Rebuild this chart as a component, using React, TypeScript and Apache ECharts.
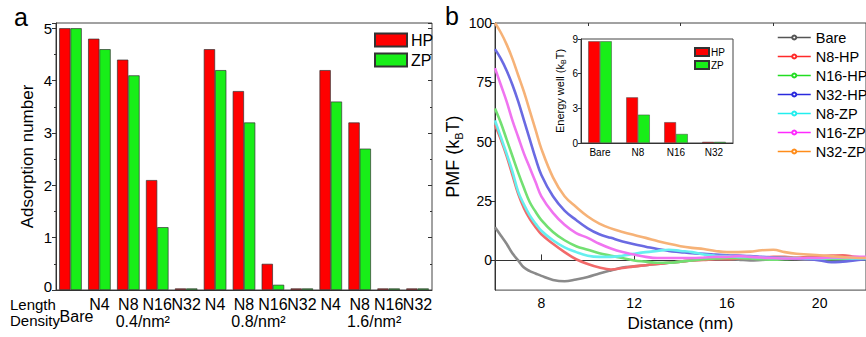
import React, { useEffect, useRef } from "react";
import * as echarts from "echarts";

// ---------- Panel a data ----------
const categoriesA = ["Bare", "N4", "N8", "N16", "N32", "N4", "N8", "N16", "N32", "N4", "N8", "N16", "N32"];
const hpAdsorption = [5, 4.8, 4.4, 2.1, 0.03, 4.6, 3.8, 0.5, 0.03, 4.2, 3.2, 0.03, 0.03];
const zpAdsorption = [5, 4.6, 4.1, 1.2, 0.03, 4.2, 3.2, 0.1, 0.03, 3.6, 2.7, 0.03, 0.03];
const densityLabels = ["0.4/nm²", "0.8/nm²", "1.6/nm²"];
const yTicksA = [0, 1, 2, 3, 4, 5];

// ---------- Panel b data ----------
const distance = [6, 6.25, 6.5, 6.75, 7, 7.25, 7.5, 7.75, 8, 8.5, 9, 9.5, 10, 10.5, 11, 11.5, 12, 12.5, 13, 13.5, 14, 14.5, 15, 15.5, 16, 16.5, 17, 17.5, 18, 18.5, 19, 19.5, 20, 20.5, 21, 21.5, 22];
const pmfBare = [14, 10.5, 7, 3, 0, -3, -4.5, -5.5, -6.5, -8.2, -8.8, -8, -7, -5.5, -4.2, -3, -2.5, -2, -1.5, -1, -0.5, 0, 0.3, 0.5, 0.5, 0.3, 0, 0.2, 0.5, 0.8, 0.5, 0.3, 0.5, 0.8, 1, 1, 1];
const pmfN8HP = [57, 51, 44, 36, 28, 22, 17.5, 14, 11, 7, 3.5, 0.5, -1.5, -3, -3.8, -3.2, -2.5, -2, -1.5, -1, -0.5, 0, 0.2, 0.5, 0.5, 0.8, 1, 1.2, 1.5, 1.5, 1.2, 1.5, 1.8, 2, 2.2, 1.5, 1];
const pmfN16HP = [64, 58, 51, 44, 37, 30.5, 24.5, 20.5, 17, 12, 8.5, 6, 4.5, 3, 2, 1, 0, -0.5, -1, -1, -0.5, 0, 0.5, 0.8, 1, 1, 0.8, 0.5, 0.3, 0.5, 0.8, 1, 0.8, 0.5, 0.5, 0.5, 0.5];
const pmfN32HP = [89, 85, 80, 74, 67, 59, 51, 43, 36, 27, 21, 17, 13.5, 11, 9.5, 8, 6.8, 5.8, 4.8, 4, 3.5, 3, 2.8, 2.5, 2.2, 2, 1.8, 1.5, 1.2, 1, 0.8, 0.5, 0, -0.8, -0.5, 0, 0.5];
const pmfN8ZP = [59, 52, 45, 37.5, 29, 23.5, 19, 15.5, 12.5, 8.5, 5.5, 3.5, 2, 1.5, 1.5, 2, 2.8, 3.5, 4, 4.5, 4, 3.5, 2.5, 2, 1.8, 1.5, 1.5, 1.2, 1, 1, 1, 0.8, 0.8, 1, 1, 0.8, 0.8];
const pmfN16ZP = [81, 74, 67, 59, 52, 45, 39, 33, 27, 20, 15, 11.5, 9.5, 7, 5, 3.5, 2.5, 1.5, 1, 1, 1, 1, 1.2, 1.5, 1.5, 1.8, 1.5, 1.2, 1, 0.8, 0.8, 1, 1, 1.2, 1.2, 1.5, 1.5];
const pmfN32ZP = [100, 96, 91, 85, 78, 71, 63, 55, 47, 35, 27, 22.5, 18.5, 15.5, 13.5, 12, 10.7, 9.5, 8.2, 7, 6, 5.3, 4.8, 4, 3.5, 3.5, 3.7, 4.3, 4.5, 3.5, 2.8, 2.5, 2.2, 1.8, 1.4, 1.1, 1];
const lineNames = ["Bare", "N8-HP", "N16-HP", "N32-HP", "N8-ZP", "N16-ZP", "N32-ZP"];
const lineValues = [pmfBare, pmfN8HP, pmfN16HP, pmfN32HP, pmfN8ZP, pmfN16ZP, pmfN32ZP];
const pmfTicks = [0, 25, 50, 75, 100];
const distanceTicks = [8, 12, 16, 20];
const distanceMinorTicks = [10, 14, 18];

// ---------- Inset data ----------
const insetCategories = ["Bare", "N8", "N16", "N32"];
const hpWell = [8.8, 3.95, 1.8, 0.1];
const zpWell = [8.8, 2.45, 0.78, 0.1];

const lineColors = ["#8a8a8a", "#f26a6a", "#72e072", "#6a6ae2", "#66efef", "#f074f0", "#f6b277"];
const legendColors = ["#555555", "#ff2a2a", "#22dd22", "#2a2add", "#22eeee", "#ff2aff", "#ff8c1a"];
const RED = "#ff0000";
const GREEN = "#18ee18";
const FONT = "Liberation Sans, Arial, sans-serif";

export default function App() {
  const ref = useRef<HTMLDivElement>(null);

  useEffect(() => {
    if (!ref.current) return;
    const chart = echarts.init(ref.current, null, { renderer: "svg" });

    const aLeft = 56, aRight = 432;
    const catW = (aRight - aLeft) / categoriesA.length;
    const groupCenters = [3, 7, 11].map((k) => aLeft + k * catW);

    const axisLineStyle = { color: "#333", width: 1 };
    const barBorder = { borderColor: "#333", borderWidth: 0.7 };

    const option: any = {
      animation: false,
      textStyle: { fontFamily: FONT, color: "#000" },
      grid: [
        { left: aLeft, top: 23, right: 866 - aRight, bottom: 47, show: true, borderColor: "#444", borderWidth: 1 },
        { left: 495, top: 23, right: -5, bottom: 40, show: true, borderColor: "#444", borderWidth: 1 },
        { left: 581, top: 39, right: 133, bottom: 194, show: true, borderColor: "#444", borderWidth: 1, backgroundColor: "#fff" },
      ],
      xAxis: [
        {
          type: "category", gridIndex: 0, data: categoriesA,
          axisLine: { lineStyle: axisLineStyle },
          axisTick: { inside: true, length: 3, lineStyle: axisLineStyle },
          axisLabel: {
            interval: 0, fontSize: 16, color: "#000", margin: 8, lineHeight: 12,
            formatter: (v: string, i: number) => (i === 0 ? "\n{b|" + v + "}" : v),
            rich: { b: { fontSize: 16, color: "#000", lineHeight: 12, padding: [0, 0, 0, 12], fontFamily: FONT } },
          },
        },
        {
          type: "value", gridIndex: 1, min: 6, max: 22,
          axisLine: { lineStyle: axisLineStyle },
          axisTick: { inside: true, length: 6, customValues: distanceTicks, lineStyle: axisLineStyle },
          axisLabel: { customValues: distanceTicks, fontSize: 14, color: "#000", margin: 6 },
          splitLine: { show: false },
          name: "Distance (nm)", nameLocation: "middle", nameGap: 22,
          nameTextStyle: { fontSize: 17, color: "#000" },
        },
        {
          type: "value", gridIndex: 1, min: 6, max: 22,
          axisLine: { show: false },
          axisTick: { inside: true, length: 3, customValues: distanceMinorTicks, lineStyle: axisLineStyle },
          axisLabel: { show: false },
          splitLine: { show: false },
        },
        {
          type: "category", gridIndex: 2, data: insetCategories,
          axisLine: { lineStyle: axisLineStyle },
          axisTick: { show: false },
          axisLabel: { fontSize: 10, color: "#000", margin: 4 },
        },
      ],
      yAxis: [
        {
          type: "value", gridIndex: 0, min: 0, max: 5.1, interval: 1,
          axisLine: { show: true, lineStyle: axisLineStyle },
          axisTick: { show: true, length: 4, lineStyle: axisLineStyle },
          minorTick: { show: true, splitNumber: 2, length: 2, lineStyle: axisLineStyle },
          axisLabel: {
            fontSize: 15, color: "#000", margin: 4,
            formatter: (v: number) => (v === 0 ? "{z|0}" : yTicksA.includes(v) ? String(v) : ""),
            rich: { z: { fontSize: 15, color: "#000", padding: [0, 0, 7, 0], fontFamily: FONT } },
          },
          splitLine: { show: false },
          name: "Adsorption number", nameLocation: "middle", nameGap: 20,
          nameTextStyle: { fontSize: 17, color: "#000" },
        },
        {
          type: "value", gridIndex: 0, min: 0, max: 5.1, interval: 1, position: "right",
          axisLine: { show: false },
          axisTick: { show: true, inside: true, length: 4, lineStyle: axisLineStyle },
          minorTick: { show: true, splitNumber: 2, length: 2, lineStyle: axisLineStyle },
          axisLabel: { show: false },
          splitLine: { show: false },
        },
        {
          type: "value", gridIndex: 1, min: -12.5, max: 100,
          axisLine: { show: true, lineStyle: axisLineStyle },
          axisTick: { show: true, length: 4, customValues: pmfTicks, lineStyle: axisLineStyle },
          axisLabel: { customValues: pmfTicks, fontSize: 14, color: "#000", margin: 3 },
          splitLine: { show: false },
          name: "{a|PMF (k}{s|B}{a|T)}", nameLocation: "middle", nameGap: 25,
          nameTextStyle: {
            rich: {
              a: { fontSize: 18, color: "#000", lineHeight: 24, fontFamily: FONT },
              s: { fontSize: 11, color: "#000", verticalAlign: "bottom", fontFamily: FONT },
            },
          },
        },
        {
          type: "value", gridIndex: 2, min: 0, max: 9, interval: 3,
          axisLine: { show: true, lineStyle: axisLineStyle },
          axisTick: { show: true, length: 3, lineStyle: axisLineStyle },
          axisLabel: { fontSize: 10, color: "#000", margin: 3 },
          splitLine: { show: false },
          name: "{a|Energy well (k}{s|B}{a|T)}", nameLocation: "middle", nameGap: 14,
          nameTextStyle: {
            rich: {
              a: { fontSize: 11, color: "#000", lineHeight: 15, fontFamily: FONT },
              s: { fontSize: 7, color: "#000", verticalAlign: "bottom", fontFamily: FONT },
            },
          },
        },
      ],
      legend: [
        {
          data: ["HP", "ZP"], orient: "vertical", left: 369, top: 27,
          itemWidth: 32, itemHeight: 13, itemGap: 4, selectedMode: false,
          textStyle: { fontSize: 16, color: "#000", fontFamily: FONT, padding: [0, 0, 0, -1] },
          icon: "rect",
        },
        {
          data: lineNames.map((n, i) => ({
            name: n,
            itemStyle: { color: legendColors[i], borderColor: legendColors[i], borderWidth: 1 },
            lineStyle: { color: legendColors[i], width: 1.5 },
          })),
          orient: "vertical", left: 772, top: 25,
          itemWidth: 33, itemHeight: 5, itemGap: 4, selectedMode: false,
          textStyle: { fontSize: 14.5, color: "#000", fontFamily: FONT, padding: [0, 0, 0, 0] },
        },
        {
          data: ["HP", "ZP"], orient: "vertical", left: 689, top: 42,
          itemWidth: 14, itemHeight: 8, itemGap: 3, selectedMode: false,
          textStyle: { fontSize: 10, color: "#000", fontFamily: FONT, padding: [0, 0, 0, -3] },
          icon: "rect",
        },
      ],
      series: [
        {
          name: "HP", type: "bar", xAxisIndex: 0, yAxisIndex: 0, data: hpAdsorption,
          barGap: "0%", barCategoryGap: "22%", itemStyle: { color: RED, ...barBorder }, silent: true,
        },
        {
          name: "ZP", type: "bar", xAxisIndex: 0, yAxisIndex: 0, data: zpAdsorption,
          barGap: "0%", barCategoryGap: "22%", itemStyle: { color: GREEN, ...barBorder }, silent: true,
        },
        ...lineNames.map((n, i) => ({
          name: n, type: "line", xAxisIndex: 1, yAxisIndex: 2,
          data: distance.map((d, j) => [d, lineValues[i][j]]),
          smooth: 0.4, showSymbol: false, symbol: "emptyCircle", symbolSize: 5,
          lineStyle: { color: lineColors[i], width: 2.6 },
          itemStyle: { color: lineColors[i] },
          silent: true, z: 2 + i,
        })),
        {
          name: "HP", type: "bar", xAxisIndex: 3, yAxisIndex: 3, data: hpWell,
          barGap: "0%", barCategoryGap: "38%", itemStyle: { color: RED, borderColor: "#444", borderWidth: 0.5 }, silent: true, z: 20,
        },
        {
          name: "ZP", type: "bar", xAxisIndex: 3, yAxisIndex: 3, data: zpWell,
          barGap: "0%", barCategoryGap: "38%", itemStyle: { color: GREEN, borderColor: "#444", borderWidth: 0.5 }, silent: true, z: 20,
        },
      ],
      graphic: [
        { type: "text", left: 14, top: 4, style: { text: "a", fontSize: 25, fill: "#000", fontFamily: FONT } },
        { type: "text", left: 445, top: 3, style: { text: "b", fontSize: 25, fill: "#000", fontFamily: FONT } },
        { type: "text", x: 10, y: 304, style: { text: "Length", fontSize: 15, fill: "#000", fontFamily: FONT, verticalAlign: "middle" } },
        { type: "text", x: 10, y: 320, style: { text: "Density", fontSize: 15, fill: "#000", fontFamily: FONT, verticalAlign: "middle" } },
        ...densityLabels.map((t, i) => ({
          type: "text", x: groupCenters[i], y: 321,
          style: { text: t, fontSize: 16, fill: "#000", fontFamily: FONT, align: "center", verticalAlign: "middle" },
        })),
      ],
    };

    chart.setOption(option);
    return () => chart.dispose();
  }, []);

  return (
    <div
      ref={ref}
      style={{ position: "absolute", left: 0, top: 0, width: 866, height: 337, background: "#fff" }}
    />
  );
}
